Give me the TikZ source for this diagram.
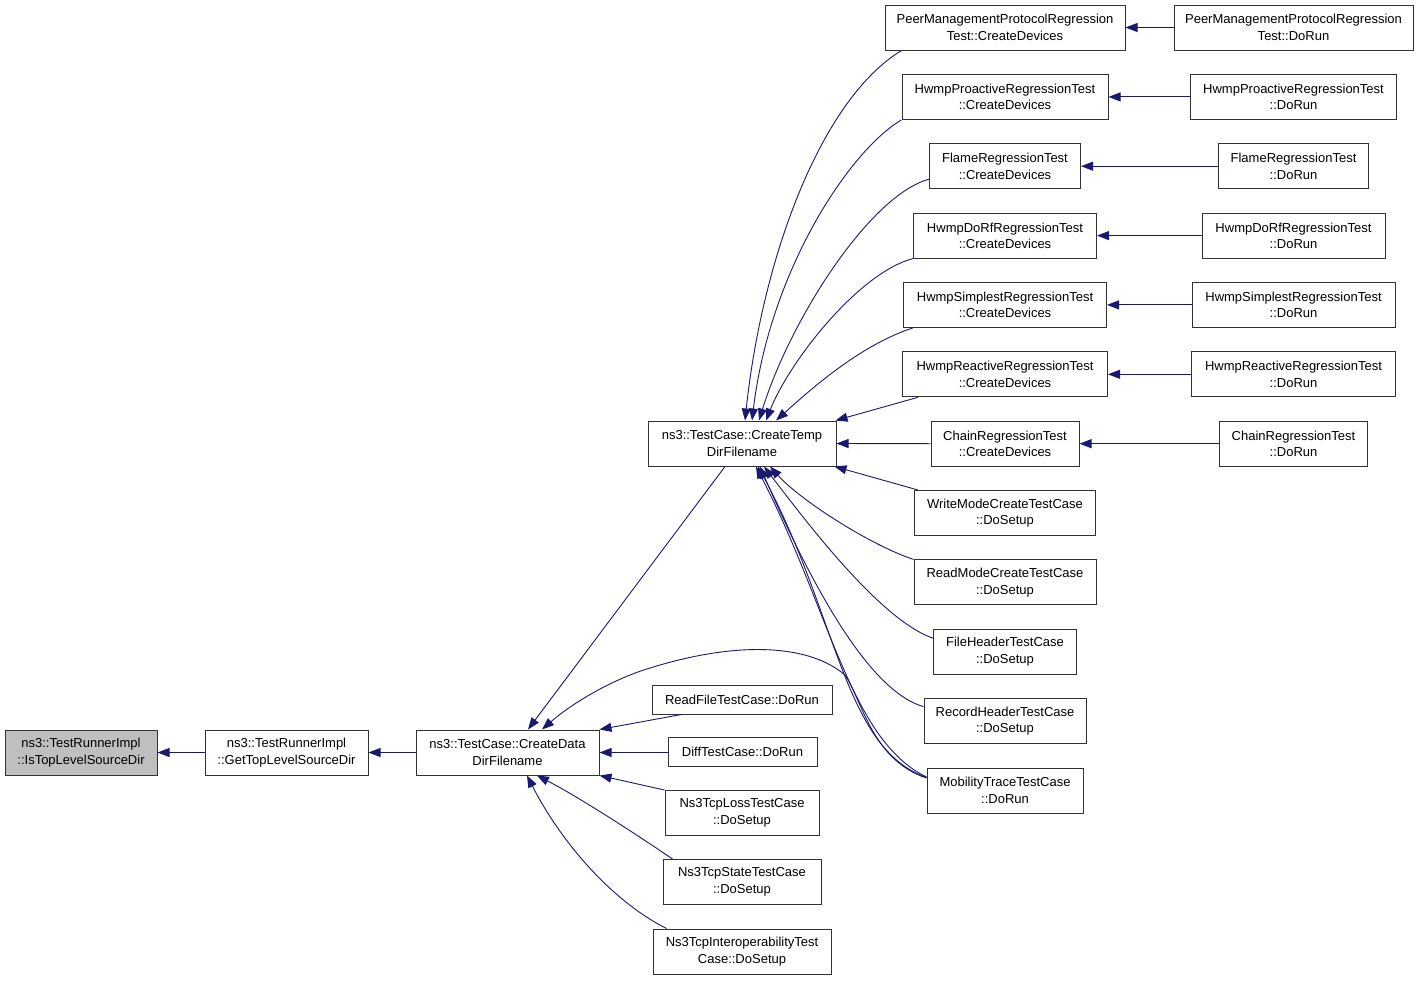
\documentclass[tikz,border=0pt]{standalone}
\usepackage{fontspec}
\setmainfont{Liberation Sans}
\usetikzlibrary{arrows.meta}
\definecolor{edgec}{HTML}{191970}
\definecolor{boxc}{HTML}{333333}
\definecolor{grayc}{HTML}{BFBFBF}
\begin{document}
\begin{tikzpicture}[x=1pt,y=-1pt,
  box/.style={draw=boxc, line width=1pt, fill=white, align=center, inner sep=0pt,
    minimum height=45pt, font=\fontsize{13}{16.5}\selectfont},
  boxone/.style={box, minimum height=29pt},
  edge/.style={draw=edgec, line width=0.9pt, {Triangle[length=12pt,width=9pt]}-}
]
\useasboundingbox (0,0) rectangle (1419,980);

% main chain
\node[box, fill=grayc, minimum width=152pt] (A) at (81,752.5) {ns3::TestRunnerImpl\\::IsTopLevelSourceDir};
\node[box, minimum width=163pt] (B) at (286.5,752.5) {ns3::TestRunnerImpl\\::GetTopLevelSourceDir};
\node[box, minimum width=183pt] (C) at (507.5,752.5) {ns3::TestCase::CreateData\\DirFilename};
\node[box, minimum width=188pt] (D) at (742,443.5) {ns3::TestCase::CreateTemp\\DirFilename};

% right column
\node[box, minimum width=240pt] (E1) at (1005,27.5) {PeerManagementProtocolRegression\\Test::CreateDevices};
\node[box, minimum width=239pt] (E1r) at (1293.5,27.5) {PeerManagementProtocolRegression\\Test::DoRun};
\node[box, minimum width=206pt] (E2) at (1005,96.9) {HwmpProactiveRegressionTest\\::CreateDevices};
\node[box, minimum width=206pt] (E2r) at (1293.5,96.9) {HwmpProactiveRegressionTest\\::DoRun};
\node[box, minimum width=151pt] (E3) at (1005,166.2) {FlameRegressionTest\\::CreateDevices};
\node[box, minimum width=150pt] (E3r) at (1293.5,166.2) {FlameRegressionTest\\::DoRun};
\node[box, minimum width=183pt] (E4) at (1005,235.6) {HwmpDoRfRegressionTest\\::CreateDevices};
\node[box, minimum width=183pt] (E4r) at (1293.5,235.6) {HwmpDoRfRegressionTest\\::DoRun};
\node[box, minimum width=203pt] (E5) at (1005,304.9) {HwmpSimplestRegressionTest\\::CreateDevices};
\node[box, minimum width=203pt] (E5r) at (1293.5,304.9) {HwmpSimplestRegressionTest\\::DoRun};
\node[box, minimum width=205pt] (E6) at (1005,374.3) {HwmpReactiveRegressionTest\\::CreateDevices};
\node[box, minimum width=204pt] (E6r) at (1293.5,374.3) {HwmpReactiveRegressionTest\\::DoRun};
\node[box, minimum width=148pt] (E7) at (1005,443.7) {ChainRegressionTest\\::CreateDevices};
\node[box, minimum width=148pt] (E7r) at (1293.5,443.7) {ChainRegressionTest\\::DoRun};
\node[box, minimum width=181pt] (F1) at (1005,513) {WriteModeCreateTestCase\\::DoSetup};
\node[box, minimum width=182pt] (F2) at (1005,582.4) {ReadModeCreateTestCase\\::DoSetup};
\node[box, minimum width=143pt] (F3) at (1005,651.7) {FileHeaderTestCase\\::DoSetup};
\node[box, minimum width=162pt] (F4) at (1005,721.1) {RecordHeaderTestCase\\::DoSetup};
\node[box, minimum width=156pt] (F5) at (1005,790.5) {MobilityTraceTestCase\\::DoRun};

% middle column
\node[boxone, minimum width=180pt] (G1) at (742,699.5) {ReadFileTestCase::DoRun};
\node[boxone, minimum width=149pt] (G2) at (742.5,752) {DiffTestCase::DoRun};
\node[box, minimum width=154pt] (G3) at (742,813) {Ns3TcpLossTestCase\\::DoSetup};
\node[box, minimum width=158pt] (G4) at (742,882) {Ns3TcpStateTestCase\\::DoSetup};
\node[box, minimum width=178pt] (G5) at (742,951.5) {Ns3TcpInteroperabilityTest\\Case::DoSetup};

% edges of the main chain
\draw[edge] (A.east) -- (B.west);
\draw[edge] (B.east) -- (C.west);
\draw[edge] ([xshift=20.5pt]C.north) -- ([xshift=-17pt]D.south);

% edges into D from the right column
\draw[edge] ([xshift=3pt]D.north) .. controls (762,260) and (820,100) .. ([xshift=17pt]E1.south west);
\draw[edge] ([xshift=10pt]D.north) .. controls (770,270) and (850,150) .. (E2.south west);
\draw[edge] ([xshift=17pt]D.north) .. controls (790,320) and (870,195) .. ([yshift=-13pt]E3.west);
\draw[edge] ([xshift=24pt]D.north) .. controls (790,360) and (860,272) .. (E4.south west);
\draw[edge] ([xshift=34pt]D.north) .. controls (810,390) and (860,345) .. ([xshift=10pt]E5.south west);
\draw[edge] ([xshift=-1pt]D.north east) -- ([xshift=16pt]E6.south west);
\draw[edge] (D.east) -- (E7.west);

\draw[edge] (E1.east) -- (E1r.west);
\draw[edge] (E2.east) -- (E2r.west);
\draw[edge] (E3.east) -- (E3r.west);
\draw[edge] (E4.east) -- (E4r.west);
\draw[edge] (E5.east) -- (E5r.west);
\draw[edge] (E6.east) -- (E6r.west);
\draw[edge] (E7.east) -- (E7r.west);

\draw[edge] ([xshift=-2pt]D.south east) -- ([xshift=4pt]F1.north west);
\draw[edge] ([xshift=28pt]D.south) .. controls (800,500) and (870,545) .. (F2.north west);
\draw[edge] ([xshift=22pt]D.south) .. controls (805,520) and (880,620) .. ([yshift=13.5pt]F3.west);
\draw[edge] ([xshift=18pt]D.south) .. controls (805,570) and (865,690) .. ([yshift=14.5pt]F4.west);
\draw[edge] ([xshift=14pt]D.south) .. controls (830,610) and (850,740) .. ([yshift=13.5pt]F5.west);
\draw[edge] ([xshift=16pt]D.south) .. controls (838,615) and (843,748) .. ([yshift=13pt]F5.west);

% edges into C
\draw[edge] ([xshift=34.5pt]C.north) .. controls (570,705) and (610,680) .. (650,668)
   .. controls (740,640) and (810,645) .. (845,675)
   .. controls (862,700) and (872,760) .. ([yshift=12.5pt]F5.west);
\draw[edge] (C.north east) -- ([xshift=30pt]G1.south west);
\draw[edge] (C.east) -- (C.east -| G2.west);
\draw[edge] (C.south east) -- (G3.north west);
\draw[edge] ([xshift=29.5pt]C.south) .. controls (575,795) and (630,830) .. ([xshift=10pt]G4.north west);
\draw[edge] ([xshift=19.5pt]C.south) .. controls (560,840) and (610,900) .. ([xshift=14pt]G5.north west);
\end{tikzpicture}
\end{document}
